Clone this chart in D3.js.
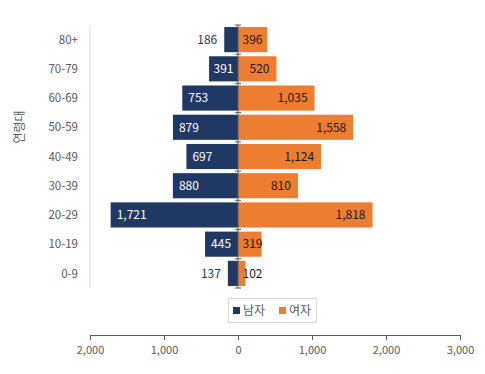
<!DOCTYPE html>
<html>
<head>
<meta charset="utf-8">
<script src="https://cdn.jsdelivr.net/npm/d3@7"></script>
<style>
	body { margin: 0; background: #fff; }
	svg { font-family: "Noto Sans CJK KR", "Open Sans", sans-serif; }
</style>
</head>
<body>
<svg class="chart" width="485" height="374"></svg>
<script>
//chart data
let ageGroups = ["80+", "70-79", "60-69", "50-59", "40-49", "30-39", "20-29", "10-19", "0-9"];
let maleValues = [186, 391, 753, 879, 697, 880, 1721, 445, 137];
let femaleValues = [396, 520, 1035, 1558, 1124, 810, 1818, 319, 102];
let xTicks = [-2000, -1000, 0, 1000, 2000, 3000];
let seriesNames = ["남자", "여자"];
let seriesColors = ["#203864", "#ed7d31"];

let svg = d3.select(".chart");
let fmt = d3.format(",");

//scales
let x = d3.scaleLinear().domain([-2000, 3000]).range([90, 460]);
let y = d3.scaleBand().domain(ageGroups).range([25, 288]).paddingInner(0.14).paddingOuter(0.07);
let band = d3.scaleBand().domain(ageGroups).range([25, 288]);

//left light line
svg.append("line")
	.attr("x1", 90).attr("x2", 90)
	.attr("y1", 25).attr("y2", 288)
	.style("stroke", "#d9d9d9");

//male bars
svg.selectAll(".male")
	.data(ageGroups)
	.enter()
	.append("rect")
	.attr("class", "male")
	.attr("x", function(d, i) { return x(-maleValues[i]); })
	.attr("y", function(d) { return y(d); })
	.attr("width", function(d, i) { return x(0) - x(-maleValues[i]); })
	.attr("height", y.bandwidth())
	.style("fill", seriesColors[0]);

//female bars
svg.selectAll(".female")
	.data(ageGroups)
	.enter()
	.append("rect")
	.attr("class", "female")
	.attr("x", x(0))
	.attr("y", function(d) { return y(d); })
	.attr("width", function(d, i) { return x(femaleValues[i]) - x(0); })
	.attr("height", y.bandwidth())
	.style("fill", seriesColors[1]);

//center axis with ticks at band edges
let center = svg.append("g").attr("class", "center-axis");
center.append("line")
	.attr("x1", x(0)).attr("x2", x(0))
	.attr("y1", 25).attr("y2", 288)
	.style("stroke", "#595959");
center.selectAll(".ctick")
	.data(ageGroups.concat(["end"]))
	.enter()
	.append("line")
	.attr("class", "ctick")
	.attr("x1", x(0) - 3).attr("x2", x(0) + 3)
	.attr("y1", function(d, i) { return 25 + i * band.step(); })
	.attr("y2", function(d, i) { return 25 + i * band.step(); })
	.style("stroke", "#595959");

//male labels: inside the bar when it fits, else to its left
function maleInside(i) { return (x(0) - x(-maleValues[i])) > 22; }
svg.selectAll(".male-label")
	.data(ageGroups)
	.enter()
	.append("text")
	.attr("class", "male-label")
	.attr("y", function(d) { return y(d) + y.bandwidth() / 2; })
	.attr("dy", "0.36em")
	.attr("x", function(d, i) {
		let left = x(-maleValues[i]);
		let w = fmt(maleValues[i]).length * 6.5;
		return maleInside(i) ? Math.min(left + 6, x(0) - w - 5) : left - 7;
	})
	.attr("text-anchor", function(d, i) { return maleInside(i) ? "start" : "end"; })
	.style("font-size", "12px")
	.style("fill", function(d, i) { return maleInside(i) ? "#ffffff" : "#203864"; })
	.text(function(d, i) { return fmt(maleValues[i]); });

//female labels
svg.selectAll(".female-label")
	.data(ageGroups)
	.enter()
	.append("text")
	.attr("class", "female-label")
	.attr("y", function(d) { return y(d) + y.bandwidth() / 2; })
	.attr("dy", "0.36em")
	.attr("x", function(d, i) {
		let right = x(femaleValues[i]);
		let w = fmt(femaleValues[i]).length * 6.5;
		return Math.max(right - 7, x(0) + w + 5);
	})
	.attr("text-anchor", "end")
	.style("font-size", "12px")
	.style("fill", "#1a1a1a")
	.text(function(d, i) { return fmt(femaleValues[i]); });

//category labels
svg.selectAll(".cat")
	.data(ageGroups)
	.enter()
	.append("text")
	.attr("class", "cat")
	.attr("x", 78)
	.attr("y", function(d) { return band(d) + band.bandwidth() / 2; })
	.attr("dy", "0.36em")
	.attr("text-anchor", "end")
	.style("font-size", "11.5px")
	.style("fill", "#595959")
	.text(function(d) { return d; });

//y axis title
svg.append("text")
	.attr("transform", "translate(24,127) rotate(-90)")
	.attr("text-anchor", "middle")
	.style("font-size", "12px")
	.style("fill", "#595959")
	.text("연령대");

//bottom axis
let bottom = svg.append("g")
	.attr("class", "x-axis")
	.attr("transform", "translate(0,335)")
	.call(d3.axisBottom(x).tickValues(xTicks).tickSize(5).tickPadding(6)
		.tickFormat(function(d) { return fmt(Math.abs(d)); }));
bottom.selectAll("line, path").style("stroke", "#595959");
bottom.selectAll("text")
	.style("font-family", "\"Noto Sans CJK KR\", \"Open Sans\", sans-serif")
	.style("font-size", "11px")
	.style("fill", "#595959");

//legend
let legend = svg.append("g").attr("class", "legend");
legend.append("rect")
	.attr("x", 228.5).attr("y", 298.5)
	.attr("width", 88).attr("height", 24)
	.style("fill", "#fff")
	.style("stroke", "#d9d9d9");
let legendX = [233, 279];
seriesNames.forEach(function(name, i) {
	legend.append("rect")
		.attr("x", legendX[i]).attr("y", 307)
		.attr("width", 7).attr("height", 7)
		.style("fill", seriesColors[i]);
	legend.append("text")
		.attr("x", legendX[i] + 10).attr("y", 311)
		.attr("dy", "0.36em")
		.style("font-size", "12px")
		.style("fill", "#595959")
		.text(name);
});
</script>
</body>
</html>
